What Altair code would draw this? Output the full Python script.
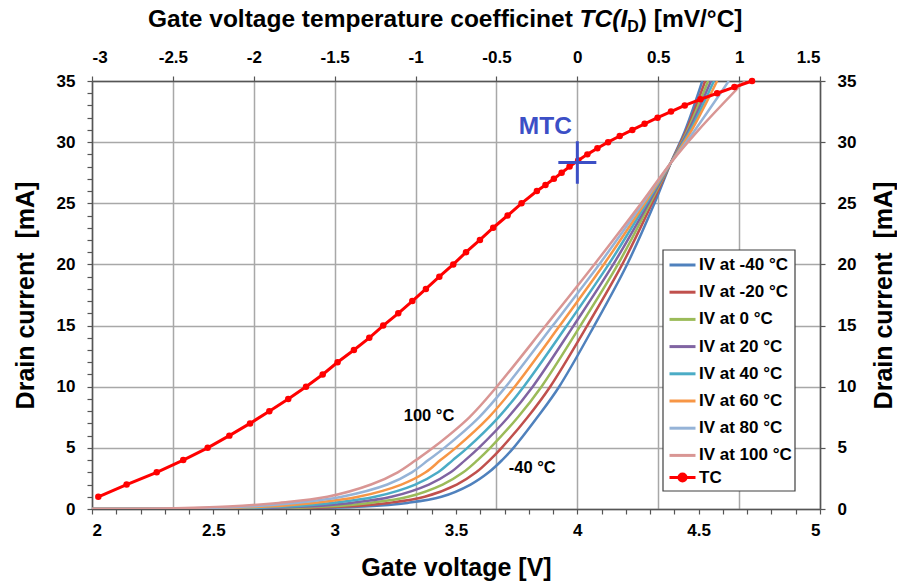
import altair as alt
import pandas as pd

FONT = "Liberation Sans"

# Drain current grid (mA) at which the gate voltage of every IV curve is listed
CURRENT_MA = [0, 0.05, 0.2, 0.5, 1, 2, 3, 4, 5, 7.5, 10, 15, 20, 25, 28.3, 31, 35]

# Gate voltage (V) of each IV curve at the currents above
IV_M40 = [2.0, 2.85, 3.12, 3.30, 3.44, 3.56, 3.635, 3.69, 3.737, 3.835, 3.925, 4.07, 4.205, 4.318, 4.385, 4.445, 4.515]
IV_M20 = [2.0, 2.771, 3.04, 3.223, 3.371, 3.503, 3.583, 3.639, 3.688, 3.795, 3.888, 4.041, 4.185, 4.308, 4.385, 4.450, 4.527]
IV_0 = [2.0, 2.693, 2.96, 3.146, 3.303, 3.445, 3.530, 3.589, 3.641, 3.755, 3.852, 4.013, 4.167, 4.300, 4.385, 4.455, 4.539]
IV_20 = [2.0, 2.614, 2.88, 3.069, 3.234, 3.388, 3.478, 3.538, 3.594, 3.715, 3.816, 3.985, 4.148, 4.293, 4.385, 4.460, 4.551]
IV_40 = [2.0, 2.536, 2.80, 2.991, 3.166, 3.332, 3.426, 3.487, 3.547, 3.675, 3.779, 3.957, 4.129, 4.285, 4.385, 4.466, 4.563]
IV_60 = [2.0, 2.457, 2.72, 2.914, 3.097, 3.275, 3.375, 3.436, 3.499, 3.635, 3.742, 3.928, 4.109, 4.278, 4.385, 4.472, 4.576]
IV_80 = [2.0, 2.379, 2.64, 2.837, 3.029, 3.217, 3.318, 3.386, 3.452, 3.595, 3.705, 3.899, 4.090, 4.270, 4.385, 4.485, 4.624]
IV_100 = [2.0, 2.30, 2.56, 2.77, 2.97, 3.15, 3.26, 3.335, 3.405, 3.555, 3.668, 3.870, 4.070, 4.263, 4.385, 4.50, 4.69]

IV_NAMES = ["IV at -40 °C", "IV at -20 °C", "IV at 0 °C", "IV at 20 °C",
            "IV at 40 °C", "IV at 60 °C", "IV at 80 °C", "IV at 100 °C"]
IV_CURVES = [IV_M40, IV_M20, IV_0, IV_20, IV_40, IV_60, IV_80, IV_100]
IV_COLORS = ["#4F81BD", "#C0504D", "#9BBB59", "#8064A2", "#4BACC6",
             "#F79646", "#95B3D7", "#D99694"]

# Temperature coefficient of the gate voltage versus drain current
TC_CURRENT = [1, 2, 3, 4, 5, 6, 7, 8, 9, 10, 11, 12, 13, 14, 15, 16, 17, 18, 19, 20,
              21, 22, 23, 24, 25, 26, 26.5, 27, 27.5, 28, 28.5, 29, 29.5, 30, 30.5,
              31, 31.5, 32, 32.5, 33, 33.5, 34, 34.5, 35]
TC_VALUE = [-2.961, -2.786, -2.600, -2.436, -2.285, -2.151, -2.023, -1.904, -1.787, -1.677,
            -1.574, -1.482, -1.381, -1.286, -1.200, -1.107, -1.020, -0.936, -0.853, -0.767,
            -0.688, -0.602, -0.520, -0.431, -0.345, -0.250, -0.197, -0.145, -0.097, -0.048,
            0.005, 0.062, 0.124, 0.190, 0.262, 0.340, 0.416, 0.496, 0.579, 0.664,
            0.761, 0.864, 0.971, 1.080]
TC_COLOR = "#FF0000"

# Zero temperature coefficient point (MTC)
MTC_TC = [0.0]
MTC_CURRENT = [28.33]
MTC_COLOR = "#3C4FC6"

# Curve labels placed on the IV family
CURVE_LABEL_TEXT = ["100 °C", "-40 °C"]
CURVE_LABEL_V = [3.389, 3.814]
CURVE_LABEL_I = [7.64, 3.35]

rows = []
for name, volts in zip(IV_NAMES, IV_CURVES):
    for k, (v, i) in enumerate(zip(volts, CURRENT_MA)):
        rows.append({"series": name, "vg": v, "id": i, "k": k})
iv_df = pd.DataFrame(rows)

tc_df = pd.DataFrame({"tc": TC_VALUE, "id": TC_CURRENT, "series": "TC"})
mtc_df = pd.DataFrame({"tc": MTC_TC, "id": MTC_CURRENT})
lab_df = pd.DataFrame({"vg": CURVE_LABEL_V, "id": CURVE_LABEL_I, "label": CURVE_LABEL_TEXT})

# Legend symbol for the TC series: a short line with a dot in the middle
TC_SYMBOL = "M-1,0H1M-0.27,0A0.27,0.27,0,1,1,0.27,0A0.27,0.27,0,1,1,-0.27,0Z"

LEGEND_STYLE = dict(
    title=None, orient="none", legendX=571, symbolSize=676, symbolStrokeWidth=3,
    labelFont=FONT, labelFontSize=17, labelFontWeight="bold", labelColor="black",
    labelOffset=2, rowPadding=4.2, padding=5,
)

color_enc = alt.Color(
    "series:N",
    scale=alt.Scale(domain=IV_NAMES, range=IV_COLORS),
    legend=alt.Legend(legendY=164.5, symbolType="stroke", **LEGEND_STYLE),
)

AXIS_STYLE = dict(
    labelFont=FONT, labelFontSize=17, labelFontWeight="bold", labelColor="black",
    labelOverlap=False, labelBound=False,
    titleFont=FONT, titleFontSize=25, titleFontWeight="bold", titleColor="black",
    domainColor="#555555", domainWidth=1.5, tickColor="#555555", tickWidth=1.2,
    tickSize=5, gridColor="#a8a8a8", gridWidth=1.5,
)

x_bottom = alt.X(
    "vg:Q",
    scale=alt.Scale(domain=[2, 5], nice=False, zero=False),
    axis=alt.Axis(
        orient="bottom", title="Gate voltage [V]", grid=False,
        values=[round(2 + 0.1 * n, 1) for n in range(31)],
        labelExpr="abs(round(datum.value * 10)) % 5 == 0 ? format(datum.value, '~g') : ''",
        labelPadding=8, titleY=66, titleBaseline="alphabetic", **AXIS_STYLE,
    ),
)
y_left = alt.Y(
    "id:Q",
    scale=alt.Scale(domain=[0, 35], nice=False),
    axis=alt.Axis(
        orient="left", title="Drain current\u00a0 [mA]", grid=False,
        values=list(range(36)),
        labelExpr="datum.value % 5 == 0 ? format(datum.value, 'd') : ''",
        labelPadding=12, titleX=-59, titleBaseline="alphabetic", **AXIS_STYLE,
    ),
)
x_top = alt.X(
    "tc:Q",
    scale=alt.Scale(domain=[-3, 1.5], nice=False, zero=False),
    axis=alt.Axis(
        orient="top", title=None, grid=True,
        values=[-3, -2.5, -2, -1.5, -1, -0.5, 0, 0.5, 1, 1.5],
        labelExpr="(datum.value < 0 ? '-' : '') + format(abs(datum.value), '~g')",
        labelPadding=10, **AXIS_STYLE,
    ),
)
y_right = alt.Y(
    "id:Q",
    scale=alt.Scale(domain=[0, 35], nice=False),
    axis=alt.Axis(
        orient="right", title="Drain current\u00a0 [mA]", grid=True,
        values=[0, 5, 10, 15, 20, 25, 30, 35],
        labelPadding=12, titleAngle=270, titleX=71, titleBaseline="alphabetic",
        **AXIS_STYLE,
    ),
)

one_row = alt.Data(values=[{}])

# White framed box behind the two legends
legend_box = alt.Chart(one_row).mark_rect(
    fill="white", stroke="#404040", strokeWidth=1.2,
).encode(x=alt.value(571), x2=alt.value(703), y=alt.value(169), y2=alt.value(410))

iv_lines = alt.Chart(iv_df).mark_line(
    strokeWidth=2.5, interpolate="catmull-rom", clip=True,
).encode(x=x_bottom, y=y_left, color=color_enc, detail="series:N", order="k:Q")
iv_labels = alt.Chart(lab_df).mark_text(
    font=FONT, fontSize=16.5, fontWeight="bold", color="black", align="center", baseline="middle",
).encode(x=x_bottom, y=y_left, text="label:N")

tc_line = alt.Chart(tc_df).mark_line(strokeWidth=3, color=TC_COLOR).encode(
    x=x_top, y=y_right, order="id:Q",
    opacity=alt.Opacity(
        "series:N", scale=alt.Scale(domain=["TC"], range=[1]),
        legend=alt.Legend(
            legendY=377, symbolType=TC_SYMBOL, symbolFillColor=TC_COLOR,
            symbolStrokeColor=TC_COLOR, symbolOpacity=1, **LEGEND_STYLE,
        ),
    ),
)
tc_points = alt.Chart(tc_df).mark_circle(size=42, color=TC_COLOR, opacity=1).encode(
    x=x_top, y=y_right,
)
mtc_cross = alt.Chart(mtc_df).mark_point(
    shape="M-1,0H1M0,-1.12V1.12", size=1444, strokeWidth=3, color=MTC_COLOR,
    filled=False, opacity=1,
).encode(x=x_top, y=y_right)
mtc_text = alt.Chart(mtc_df).mark_text(
    text="MTC", font=FONT, fontSize=24.5, fontWeight="bold", color=MTC_COLOR,
    align="center", baseline="middle", dx=-32, dy=-36,
).encode(x=x_top, y=y_right)


# Top title assembled from pieces so that TC(I_D) can be italic with a subscript
def title_piece(text, x, y, size=24.5, style="normal"):
    return alt.Chart(one_row).mark_text(
        text=text, font=FONT, fontSize=size, fontWeight="bold", fontStyle=style,
        color="black", align="left", baseline="alphabetic",
    ).encode(x=alt.value(x), y=alt.value(y))


title_parts = [
    title_piece("Gate voltage temperature coefficinet", 56, -54),
    title_piece("TC(", 487.6, -54, style="italic"),
    title_piece("I", 528.4, -54, style="italic"),
    title_piece("D", 535.2, -49, size=16),
    title_piece(") [mV/°C]", 546.8, -54),
]

bottom_left = alt.layer(legend_box, iv_lines, iv_labels)
top_right = alt.layer(tc_line, tc_points, mtc_cross, mtc_text, *title_parts)

chart = alt.layer(bottom_left, top_right).resolve_scale(
    x="independent", y="independent"
).properties(
    width=728, height=428,
    autosize=alt.AutoSizeParams(type="none"),
    padding={"left": 92, "top": 81, "right": 77, "bottom": 72},
    background="white",
).configure_view(stroke="transparent").configure_axis(labelOverlap=False)

chart.save("out.html", embed_options={"renderer": "svg", "actions": False})
